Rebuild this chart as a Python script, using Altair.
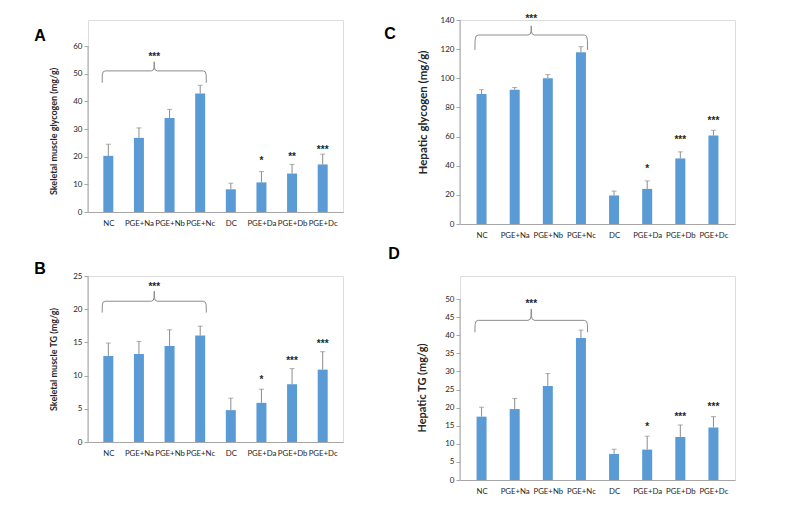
import json
import altair as alt
import pandas as pd

categories = ["NC", "PGE+Na", "PGE+Nb", "PGE+Nc", "DC", "PGE+Da", "PGE+Db", "PGE+Dc"]

# Panel A: skeletal muscle glycogen
a_means = [20.3, 26.8, 34.0, 42.8, 8.2, 10.7, 13.9, 17.2]
a_sd = [4.2, 3.6, 3.1, 3.0, 2.2, 3.9, 3.3, 3.7]
a_stars = ["*", "**", "***"]
a_star_y = [19.6, 21.0, 23.4]
a_top_star = 57.0
a_brace = [46.7, 51.0, 54.3]

# Panel B: skeletal muscle TG
b_means = [12.95, 13.25, 14.45, 16.05, 4.8, 5.9, 8.7, 10.9]
b_sd = [1.95, 1.9, 2.45, 1.4, 1.8, 2.05, 2.35, 2.7]
b_stars = ["*", "***", "***"]
b_star_y = [9.8, 12.6, 15.2]
b_top_star = 23.8
b_brace = [19.5, 21.2, 22.7]

# Panel C: hepatic glycogen
c_means = [89.2, 92.2, 100.0, 117.8, 19.6, 24.1, 45.0, 60.8]
c_sd = [3.0, 1.5, 2.5, 3.9, 3.0, 5.5, 4.5, 3.5]
c_stars = ["*", "***", "***"]
c_star_y = [40.0, 60.0, 72.8]
c_top_star = 143.0
c_brace = [119.5, 129.7, 136.0]

# Panel D: hepatic TG
d_means = [17.5, 19.6, 26.0, 39.2, 7.2, 8.4, 11.9, 14.5]
d_sd = [2.6, 2.9, 3.4, 2.2, 1.3, 3.7, 3.3, 3.0]
d_stars = ["*", "***", "***"]
d_star_y = [15.5, 18.1, 20.9]
d_top_star = 49.4
d_brace = [40.8, 44.1, 47.2]

BAR = "#5B9BD5"
GRAY = "#8c8c8c"
AXIS = "#a6a6a6"
TXT = "#262626"

label_expr = json.dumps(categories) + "[datum.value]"


def brace_points(yend, ybar, ypeak, x0=-0.2, x1=3.2):
    xc = (x0 + x1) / 2
    d = ybar - yend
    p = ypeak - ybar
    pts = [
        (x0, yend), (x0 + 0.004, ybar - 0.35 * d), (x0 + 0.03, ybar - 0.08 * d), (x0 + 0.1, ybar),
        (xc - 0.1, ybar), (xc - 0.03, ybar + 0.1 * p), (xc - 0.006, ybar + 0.4 * p), (xc, ypeak),
        (xc + 0.006, ybar + 0.4 * p), (xc + 0.03, ybar + 0.1 * p), (xc + 0.1, ybar),
        (x1 - 0.1, ybar), (x1 - 0.03, ybar - 0.08 * d), (x1 - 0.004, ybar - 0.35 * d), (x1, yend),
    ]
    return pd.DataFrame({"i": [q[0] for q in pts], "v": [q[1] for q in pts], "o": list(range(len(pts)))})


def panel(means, sds, stars, star_y, top_star, brace, ymax, ystep, ytitle, letter,
          lx, ly, w, h, toff, ext, tsize, tshift):
    # ext: extra empty pixels above the axis top so panels line up in the grid
    H = h + ext
    dom_max = ymax * H / h
    idx = list(range(len(categories)))
    df = pd.DataFrame({"i": idx, "cat": categories, "v": means,
                       "upper": [m + s for m, s in zip(means, sds)]})
    xenc = alt.X("i:Q", scale=alt.Scale(domain=[-0.5, 7.5], nice=False, zero=False),
                 axis=alt.Axis(values=idx, labelExpr=label_expr, ticks=False, grid=False,
                               domainColor=AXIS, labelFontSize=7.8, labelPadding=7,
                               labelColor=TXT, title=None, labelFlush=False,
                               labelOverlap=False, labelFont="Lato"))
    yscale = alt.Scale(domain=[0, dom_max], nice=False, zero=True)
    yaxis = alt.Axis(values=list(range(0, ymax + 1, ystep)), grid=False, tickSize=4,
                     tickColor=AXIS, domain=False, labelFontSize=8, labelColor=TXT,
                     labelPadding=2, labelFont="Lato", title=ytitle, titleFont="Lato",
                     titleFontSize=tsize, titleFontWeight="bold", titleColor=TXT,
                     titleX=-toff, titleY=ext + h / 2 + tshift, titleAngle=270,
                     titleBaseline="middle", titleAlign="center")
    yenc = alt.Y("v:Q", scale=yscale, axis=yaxis)

    base = alt.Chart(df)
    bars = base.mark_bar(size=10, color=BAR).encode(x=xenc, y=yenc)
    err = base.mark_rule(color=GRAY, strokeWidth=1).encode(
        x=xenc, y=alt.Y("upper:Q", scale=yscale, axis=yaxis), y2="v:Q")
    cap = base.mark_tick(orient="horizontal", size=5, thickness=1, color=GRAY).encode(
        x=xenc, y=alt.Y("upper:Q", scale=yscale, axis=yaxis))

    adf = pd.DataFrame({"lo": [0], "hi": [ymax]})
    axis_line = alt.Chart(adf).mark_rule(color=AXIS, strokeWidth=1).encode(
        x=alt.value(0), y=alt.Y("lo:Q", scale=yscale, axis=yaxis), y2="hi:Q")

    sdf = pd.DataFrame({"i": [5, 6, 7, 1.5], "v": star_y + [top_star], "t": stars + ["***"]})
    star_txt = alt.Chart(sdf).mark_text(fontSize=10, fontWeight="bold", font="Liberation Sans",
                                        color=TXT, baseline="alphabetic", dy=6).encode(
        x=xenc, y=yenc, text="t:N")

    bdf = brace_points(*brace)
    br = alt.Chart(bdf).mark_line(color=GRAY, strokeWidth=1).encode(x=xenc, y=yenc, order="o:Q")

    ldf = pd.DataFrame({"t": [letter]})
    let = alt.Chart(ldf).mark_text(fontSize=16, fontWeight="bold", font="Liberation Sans",
                                   color="#000000", baseline="middle", align="center").encode(
        x=alt.value(lx), y=alt.value(ly + ext), text="t:N")

    return alt.layer(bars, err, cap, axis_line, star_txt, br, let).properties(width=w, height=H)


A = panel(a_means, a_sd, a_stars, a_star_y, a_top_star, a_brace, 60, 10,
          "Skeletal muscle glycogen (mg/g)", "A", -48, -10, 255, 166, 35, 26, 9, 2)
C = panel(c_means, c_sd, c_stars, c_star_y, c_top_star, c_brace, 140, 20,
          "Hepatic glycogen (mg/g)", "C", -70, 14, 275, 204, 37, 0, 11.5, -10)
B = panel(b_means, b_sd, b_stars, b_star_y, b_top_star, b_brace, 25, 5,
          "Skeletal muscle TG (mg/g)", "B", -48, -7, 255, 166, 35, 0, 9, 0)
D = panel(d_means, d_sd, d_stars, d_star_y, d_top_star, d_brace, 50, 5,
          "Hepatic TG (mg/g)", "D", -66, -45, 275, 181, 38, 23, 11, -2)

chart = alt.concat(A, C, B, D, columns=2, spacing=alt.RowColnumber(row=52, column=117),
                   bounds="flush").properties(
    padding={"left": 25, "top": 5, "right": 5, "bottom": 5}
).configure_view(stroke=None).configure(background="white")

chart.save("out.html", embed_options={"renderer": "svg", "actions": False})
